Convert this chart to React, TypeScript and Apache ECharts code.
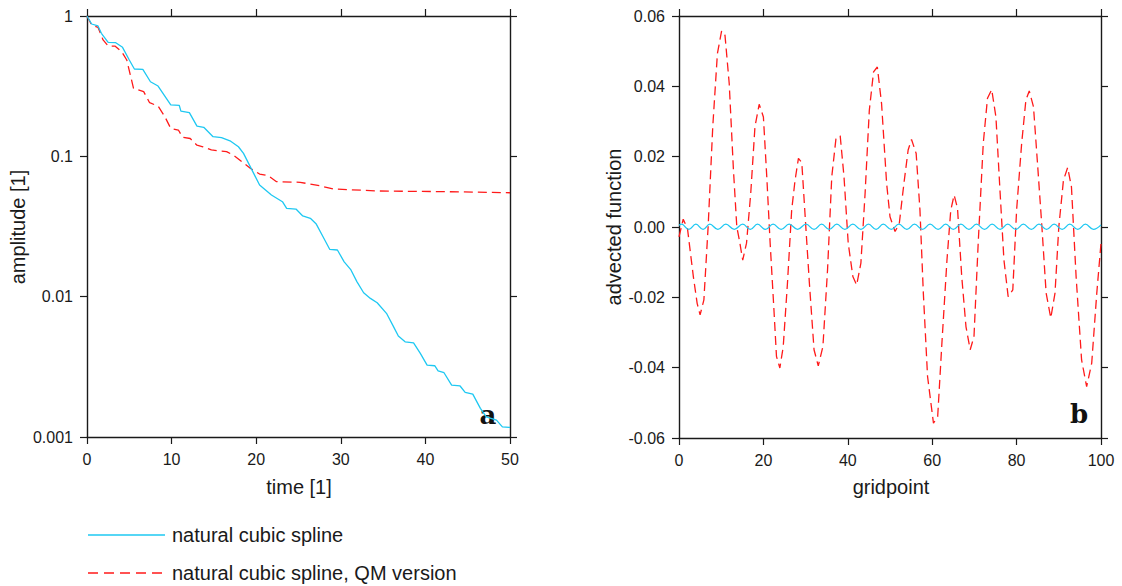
import React, { useEffect, useRef } from "react";
import * as echarts from "echarts";

// ---- Panel a: amplitude decay vs time (log scale) ----
const timeTicks = [0, 10, 20, 30, 40, 50];
const amplitudeTicks = [1, 0.1, 0.01, 0.001];

const splineDecay: [number, number][] = [
  [0, 1], [0.55, 0.877], [1.3, 0.849], [1.7, 0.753], [2.5, 0.649], [3.4, 0.645], [4.2, 0.598],
  [5, 0.486], [5.6, 0.419], [6.6, 0.417], [7.5, 0.34], [8.4, 0.317], [9.9, 0.233], [10.9, 0.231],
  [11.1, 0.21], [12.1, 0.205], [13, 0.164], [13.8, 0.161], [14.9, 0.138], [15.9, 0.136],
  [16.9, 0.129], [17.9, 0.117], [18.5, 0.105], [19.1, 0.0891], [19.7, 0.0756], [20.4, 0.0624],
  [21.8, 0.053], [23.1, 0.0475], [23.6, 0.0426], [24.7, 0.0421], [25.5, 0.0376], [26.4, 0.0362],
  [27.1, 0.0329], [27.9, 0.0267], [28.7, 0.0217], [29.6, 0.0215], [30.4, 0.0177], [31.2, 0.0155],
  [31.9, 0.0128], [32.7, 0.01066], [33.5, 0.00972], [34.3, 0.00905], [35.4, 0.00761],
  [36.2, 0.00617], [36.8, 0.00524], [37.6, 0.00477], [38.6, 0.00469], [39.4, 0.00394],
  [40.2, 0.00325], [41.1, 0.00322], [41.5, 0.00296], [42.2, 0.00287], [43.1, 0.00234],
  [44.1, 0.00231], [44.7, 0.00208], [45.6, 0.00202], [46.5, 0.0016], [47.2, 0.00139],
  [48.4, 0.00132], [49.1, 0.00118], [49.9, 0.00117], [50, 0.00117],
];

const qmDecay: [number, number][] = [
  [0, 1], [0.55, 0.863], [1.3, 0.831], [1.9, 0.675], [2.5, 0.611], [3.3, 0.611], [4.1, 0.557],
  [4.7, 0.486], [5.5, 0.305], [6.7, 0.289], [7.4, 0.241], [8.4, 0.228], [9.2, 0.192], [9.9, 0.158],
  [10.8, 0.154], [11.3, 0.1366], [12.2, 0.134], [13, 0.12], [13.7, 0.117], [14.7, 0.111],
  [16.5, 0.108], [17.3, 0.102], [18.3, 0.0916], [19.3, 0.0822], [20.4, 0.0748], [21.4, 0.0728],
  [22.4, 0.066], [25.2, 0.0653], [27.5, 0.0617], [29.1, 0.0585], [34.6, 0.0566], [42.5, 0.056],
  [50, 0.055],
];

// ---- Panel b: advected function vs gridpoint ----
const gridpointTicks = [0, 20, 40, 60, 80, 100];
const advectedTicks = [-0.06, -0.04, -0.02, 0, 0.02, 0.04, 0.06];

const splineAdvected: [number, number][] = [
  [0, 0.0005], [0.6, 0.0008], [2.3, -0.0007], [4.0, 0.0008], [5.7, -0.0007], [7.3, 0.0008],
  [9.2, -0.0007], [11.1, 0.0008], [13.1, -0.0007], [15.1, 0.0008], [16.9, -0.0007], [18.6, 0.0008],
  [20.5, -0.0007], [22.3, 0.0008], [24.2, -0.0007], [26.1, 0.0008], [28.1, -0.0007], [30.1, 0.0008],
  [32.0, -0.0007], [33.8, 0.0008], [35.6, -0.0007], [37.4, 0.0008], [39.3, -0.0007], [41.2, 0.0008],
  [43.1, -0.0007], [44.9, 0.0008], [46.7, -0.0007], [48.4, 0.0008], [50.3, -0.0007], [52.1, 0.0008],
  [54.0, -0.0007], [55.8, 0.0008], [57.7, -0.0007], [59.5, 0.0008], [61.4, -0.0007], [63.2, 0.0008],
  [65.0, -0.0007], [66.8, 0.0008], [68.7, -0.0007], [70.5, 0.0008], [72.4, -0.0007], [74.2, 0.0008],
  [76.1, -0.0007], [77.9, 0.0008], [79.8, -0.0007], [81.6, 0.0008], [83.5, -0.0007], [85.3, 0.0008],
  [87.1, -0.0007], [88.9, 0.0008], [90.8, -0.0007], [92.6, 0.0008], [94.5, -0.0007], [96.3, 0.0008],
  [98.2, -0.0007], [100, 0.0006],
];

const qmAdvected: [number, number][] = [
  [0, -0.0028], [1, 0.0022], [2, -0.0004], [3.4, -0.0141], [4.3, -0.0217], [5, -0.025],
  [5.9, -0.0207], [6.9, 0], [8, 0.0285], [9.1, 0.0493], [10.1, 0.0558], [10.9, 0.0545],
  [11.9, 0.0408], [12.9, 0.0162], [13.7, 0], [14.3, -0.0037], [15.1, -0.0094], [16, -0.0046],
  [17, 0.0096], [18, 0.0285], [19, 0.0349], [20, 0.0313], [20.8, 0.0143], [21.6, -0.0046],
  [22.5, -0.0236], [23.1, -0.0368], [23.9, -0.0401], [24.7, -0.034], [25.7, -0.016], [26.7, 0.0048],
  [27.5, 0.0133], [28.3, 0.0195], [29.1, 0.0183], [29.9, 0.0029], [30.9, -0.016], [32, -0.0349],
  [33, -0.0395], [34.1, -0.034], [35.2, -0.0122], [36.2, 0.0143], [37.2, 0.0252], [38.2, 0.0259],
  [39.1, 0.0143], [40.1, -0.0046], [41.2, -0.0141], [42.1, -0.0165], [43.1, -0.0103], [44.1, 0.0096],
  [45.1, 0.0332], [46.1, 0.0441], [47, 0.0455], [48, 0.0351], [49.2, 0.0124], [50, 0.0029],
  [51.2, -0.0013], [52.2, 0.001], [53.3, 0.0124], [54.3, 0.0219], [55.1, 0.0249], [56.2, 0.0209],
  [57.1, 0.0048], [57.9, -0.0188], [58.9, -0.0425], [59.9, -0.052], [60.3, -0.0558], [61.3, -0.0539],
  [62.3, -0.033], [63.5, -0.0094], [64.4, 0.0048], [65.2, 0.0091], [66, 0.0053], [67, -0.0141],
  [68, -0.0283], [69, -0.0349], [69.9, -0.0312], [70.9, -0.0046], [72.1, 0.0238], [73.1, 0.0366],
  [74.1, 0.0391], [75.1, 0.0313], [76.1, 0.0096], [77, -0.0094], [78, -0.0198], [79.1, -0.0179],
  [80, 0.0048], [81.2, 0.0238], [82.2, 0.0361], [83, 0.0387], [84, 0.0342], [84.9, 0.019], [86, 0],
  [87, -0.0188], [88.1, -0.0259], [89.1, -0.0188], [90, 0], [91.1, 0.0133], [92.1, 0.0169],
  [93, 0.0114], [94.1, -0.0141], [95.4, -0.0378], [96.6, -0.0454], [97.8, -0.0387], [99, -0.0188],
  [100, -0.0046],
];

const seriesNames = ["natural cubic spline", "natural cubic spline, QM version"];
const axisTitles = { aX: "time [1]", aY: "amplitude [1]", bX: "gridpoint", bY: "advected function" };
const panelLetters = ["a", "b"];

const BLUE = "#1ec8f2";
const RED = "#ff1a1a";
const INK = "#1a1a1a";
const FONT = "'Liberation Sans', Arial, sans-serif";

function frameAxis(extra: any, showLabel: boolean, margin: number) {
  return {
    axisLine: { show: true, onZero: false, lineStyle: { color: INK, width: 1.4 } },
    axisTick: { show: true, inside: false, length: 7, lineStyle: { color: INK, width: 1.2 } },
    axisLabel: { show: showLabel, color: INK, fontFamily: FONT, fontSize: 16, margin },
    splitLine: { show: false },
    ...extra,
  };
}

export default function App() {
  const ref = useRef<HTMLDivElement>(null);
  useEffect(() => {
    if (!ref.current) return;
    const chart = echarts.init(ref.current, undefined, { renderer: "svg" });
    const fmtAdv = (v: number) => (Math.abs(v) < 1e-9 ? "0.00" : v.toFixed(2));
    const fmtAmp = (v: number) => {
      const hit = amplitudeTicks.find((t) => Math.abs(Math.log10(t) - Math.log10(v)) < 1e-6);
      return hit !== undefined ? String(hit) : "";
    };
    const option: any = {
      animation: false,
      backgroundColor: "#ffffff",
      grid: [
        { left: 87, top: 16, width: 423, height: 421 },
        { left: 679, top: 16, width: 422, height: 422 },
      ],
      xAxis: [
        frameAxis({ type: "value", gridIndex: 0, position: "bottom", min: timeTicks[0], max: timeTicks[timeTicks.length - 1], interval: 10 }, true, 14),
        frameAxis({ type: "value", gridIndex: 0, position: "top", min: timeTicks[0], max: timeTicks[timeTicks.length - 1], interval: 10 }, false, 14),
        frameAxis({ type: "value", gridIndex: 1, position: "bottom", min: gridpointTicks[0], max: gridpointTicks[gridpointTicks.length - 1], interval: 20 }, true, 14),
        frameAxis({ type: "value", gridIndex: 1, position: "top", min: gridpointTicks[0], max: gridpointTicks[gridpointTicks.length - 1], interval: 20 }, false, 14),
      ],
      yAxis: [
        frameAxis({ type: "log", logBase: 10, gridIndex: 0, position: "left", min: 0.001, max: 1 }, true, 14),
        frameAxis({ type: "log", logBase: 10, gridIndex: 0, position: "right", min: 0.001, max: 1 }, false, 14),
        frameAxis({ type: "value", gridIndex: 1, position: "left", min: advectedTicks[0], max: advectedTicks[advectedTicks.length - 1], interval: 0.02 }, true, 14),
        frameAxis({ type: "value", gridIndex: 1, position: "right", min: advectedTicks[0], max: advectedTicks[advectedTicks.length - 1], interval: 0.02 }, false, 14),
      ],
      series: [
        {
          name: seriesNames[0], type: "line", xAxisIndex: 0, yAxisIndex: 0, data: splineDecay,
          showSymbol: false, lineStyle: { color: BLUE, width: 1.3 }, z: 3,
        },
        {
          name: seriesNames[1], type: "line", xAxisIndex: 0, yAxisIndex: 0, data: qmDecay,
          showSymbol: false, lineStyle: { color: RED, width: 1.3, type: [9, 5] }, z: 2,
        },
        {
          name: seriesNames[0], type: "line", xAxisIndex: 2, yAxisIndex: 2, data: splineAdvected,
          showSymbol: false, smooth: 0.4, lineStyle: { color: BLUE, width: 1.3 }, z: 3,
        },
        {
          name: seriesNames[1], type: "line", xAxisIndex: 2, yAxisIndex: 2, data: qmAdvected,
          showSymbol: false, lineStyle: { color: RED, width: 1.3, type: [9, 5] }, z: 2,
        },
      ],
      graphic: [
        { type: "text", x: 18, y: 227, rotation: Math.PI / 2, style: { text: axisTitles.aY, fill: INK, font: `20px ${FONT}`, align: "center", verticalAlign: "middle" } },
        { type: "text", x: 614, y: 227, rotation: Math.PI / 2, style: { text: axisTitles.bY, fill: INK, font: `20px ${FONT}`, align: "center", verticalAlign: "middle" } },
        { type: "text", x: 299, y: 487, style: { text: axisTitles.aX, fill: INK, font: `20px ${FONT}`, align: "center", verticalAlign: "middle" } },
        { type: "text", x: 891, y: 487, style: { text: axisTitles.bX, fill: INK, font: `20px ${FONT}`, align: "center", verticalAlign: "middle" } },
        { type: "text", x: 488, y: 415, style: { text: panelLetters[0], fill: "#111", font: `bold 26px 'DejaVu Serif', serif`, align: "center", verticalAlign: "middle" } },
        { type: "text", x: 1079, y: 414, style: { text: panelLetters[1], fill: "#111", font: `bold 26px 'DejaVu Serif', serif`, align: "center", verticalAlign: "middle" } },
        { type: "line", shape: { x1: 88, y1: 535, x2: 165, y2: 535 }, style: { stroke: BLUE, lineWidth: 1.3 } },
        { type: "text", x: 172, y: 535, style: { text: seriesNames[0], fill: INK, font: `20px ${FONT}`, align: "left", verticalAlign: "middle" } },
        { type: "line", shape: { x1: 88, y1: 573, x2: 165, y2: 573 }, style: { stroke: RED, lineWidth: 1.3, lineDash: [10, 6] } },
        { type: "text", x: 172, y: 573, style: { text: seriesNames[1], fill: INK, font: `20px ${FONT}`, align: "left", verticalAlign: "middle" } },
      ],
    };
    option.yAxis[0].axisLabel.formatter = fmtAmp;
    option.yAxis[2].axisLabel.formatter = fmtAdv;
    chart.setOption(option);
    return () => chart.dispose();
  }, []);
  return (
    <div
      ref={ref}
      style={{ position: "fixed", left: 0, top: 0, width: 1122, height: 586, background: "#fff" }}
    />
  );
}
